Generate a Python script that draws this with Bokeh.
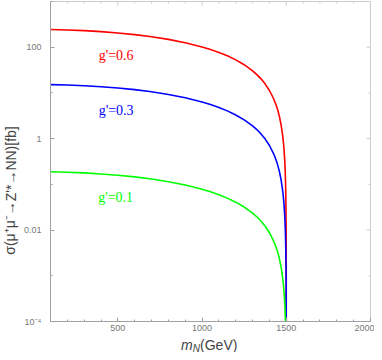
from bokeh.plotting import figure
from bokeh.models import FixedTicker, Label, Range1d
from bokeh.layouts import row, column
from bokeh.embed import file_html
from bokeh.resources import INLINE

# ---- data ----
m_N = [100, 200, 300, 400, 500, 600, 700, 800, 900, 1000, 1050, 1100, 1150, 1200, 1250,
       1300, 1325, 1350, 1375, 1400, 1425, 1440, 1450, 1460, 1470, 1480, 1485, 1490, 1492,
       1495, 1497, 1498, 1499, 1499.5, 1499.7, 1499.9, 1499.99]
sigma_g06 = [243.4, 238.5, 230.4, 219.3, 205.3, 188.6, 169.5, 148.3, 125.4, 101.5, 89.2,
             77.0, 64.8, 52.9, 41.4, 30.4, 25.2, 20.3, 15.6, 11.3, 7.46, 5.38, 4.12, 2.96,
             1.93, 1.06, 0.688, 0.375, 0.269, 0.133, 0.0619, 0.0337, 0.0119, 0.00422,
             0.00196, 3.8e-4, 1.2e-5]
sigma_g03 = [15.2, 14.9, 14.4, 13.7, 12.8, 11.8, 10.6, 9.26, 7.83, 6.34, 5.57, 4.81, 4.05,
             3.30, 2.58, 1.90, 1.58, 1.27, 0.977, 0.708, 0.466, 0.336, 0.257, 0.185, 0.121,
             0.066, 0.043, 0.0234, 0.0168, 0.0083, 0.00386, 0.0021, 7.5e-4, 2.6e-4,
             1.22e-4, 2.4e-5, 7.5e-7]
sigma_g01 = [0.188, 0.184, 0.178, 0.169, 0.158, 0.146, 0.131, 0.114, 0.0968, 0.0783,
             0.0688, 0.0594, 0.0500, 0.0408, 0.0319, 0.0235, 0.0195, 0.0156, 0.0121,
             0.00875, 0.00575, 0.00415, 0.00318, 0.00228, 0.00149, 8.1e-4, 5.3e-4,
             2.9e-4, 2.07e-4, 1.03e-4, 4.77e-5, 2.6e-5, 9.2e-6, 3.3e-6, 1.5e-6, 2.9e-7,
             9.2e-9]
series_labels = ["g'=0.6", "g'=0.3", "g'=0.1"]
series_colors = ["#ff0000", "#0000ff", "#00ff00"]
label_x = [386, 386, 383]
label_y = [66.7, 4.12, 0.0506]

x_major = [500, 1000, 1500, 2000]
x_minor = list(range(100, 2001, 100))
y_major = [1e-4, 1e-2, 1, 100]
y_minor = [1e-4, 1e-3, 1e-2, 1e-1, 1, 10, 100, 1000]
y_tick_text = {1e-4: "10\u207b\u2074", 1e-2: "0.01", 1: "1", 100: "100"}
y_title = "\u03c3(\u03bc\u207a\u03bc\u207b\u2192Z'*\u2192NN)[fb]"

X_MIN, X_MAX = 100, 2000
Y_MIN, Y_MAX = 1e-4, 1e3

TICK_FONT = "Liberation Sans"
LABEL_FONT = "Liberation Sans"
DARK = "#a0a0a0"
LIGHT = "#cccccc"

TOTAL_H = 352
YT_W = 20
P_W, P_H = 354, 336
XT_H = TOTAL_H - P_H

xr = Range1d(X_MIN, X_MAX)

p = figure(width=P_W, height=P_H, x_range=xr, y_range=Range1d(Y_MIN, Y_MAX),
           y_axis_type="log", output_backend="svg", toolbar_location=None,
           min_border_left=29, min_border_right=4, min_border_top=1, min_border_bottom=15)
p.grid.visible = False
p.outline_line_color = LIGHT
p.background_fill_color = "white"
p.border_fill_color = "white"

for s, c in zip([sigma_g06, sigma_g03, sigma_g01], series_colors):
    p.line(m_N, s, line_color=c, line_width=1.6)

for t, c, lx, ly in zip(series_labels, series_colors, label_x, label_y):
    p.add_layout(Label(x=lx, y=ly, text=t, text_color=c, text_font="Liberation Serif",
                       text_font_size="14px", text_baseline="alphabetic", text_align="left"))

def style(ax):
    ax.axis_line_color = DARK
    ax.major_tick_line_color = DARK
    ax.minor_tick_line_color = DARK
    ax.major_tick_in = 4
    ax.major_tick_out = 0
    ax.minor_tick_in = 2
    ax.minor_tick_out = 0
    ax.major_label_text_font = TICK_FONT
    ax.major_label_text_font_size = "9px"
    ax.major_label_text_color = "#777777"

xb = p.xaxis[0]
xb.ticker = FixedTicker(ticks=x_major, minor_ticks=x_minor)
style(xb)
xb.major_label_standoff = 3

yl = p.yaxis[0]
yl.ticker = FixedTicker(ticks=y_major, minor_ticks=y_minor)
yl.major_label_overrides = y_tick_text
style(yl)
yl.major_label_standoff = 9

# mirrored inward ticks on top and right frame edges
x_top_len = [4 if v in x_major else 2 for v in x_minor]
p.ray(x=x_minor, y=[Y_MAX] * len(x_minor), length=x_top_len, length_units="screen",
      angle=-1.5707963, line_color=LIGHT, line_width=1)
y_right_len = [4 if v in y_major else 2 for v in y_minor]
p.ray(x=[X_MAX] * len(y_minor), y=y_minor, length=y_right_len, length_units="screen",
      angle=3.1415927, line_color=LIGHT, line_width=1)

def blank(fig):
    fig.grid.visible = False
    fig.outline_line_color = None
    fig.background_fill_color = "white"
    fig.border_fill_color = "white"

# x title strip (shares the x range with the chart)
xf = figure(width=P_W, height=XT_H, x_range=xr, y_range=Range1d(0, XT_H),
            output_backend="svg", toolbar_location=None, x_axis_location=None,
            y_axis_location=None, min_border_left=29, min_border_right=4,
            min_border_top=0, min_border_bottom=0)
blank(xf)
xf.add_layout(Label(x=875, y=8, text="m", text_font=LABEL_FONT, text_font_style="italic",
                    text_font_size="14px", text_baseline="middle", text_align="left"))
xf.add_layout(Label(x=944, y=4.5, text="N", text_font=LABEL_FONT, text_font_style="italic",
                    text_font_size="10px", text_baseline="middle", text_align="left"))
xf.add_layout(Label(x=988, y=8, text="(GeV)", text_font=LABEL_FONT,
                    text_font_size="14px", text_baseline="middle", text_align="left"))

# y title strip
yf = figure(width=YT_W, height=TOTAL_H, x_range=Range1d(0, YT_W), y_range=Range1d(0, TOTAL_H),
            output_backend="svg", toolbar_location=None, x_axis_location=None,
            y_axis_location=None, min_border=0)
blank(yf)
yf.add_layout(Label(x=10, y=TOTAL_H - 190, text=y_title, angle=1.5707963,
                    text_font=LABEL_FONT, text_font_size="14px",
                    text_baseline="middle", text_align="center"))

layout = row(yf, column(p, xf, spacing=0), spacing=0)
open("out.html", "w").write(file_html(layout, INLINE))
